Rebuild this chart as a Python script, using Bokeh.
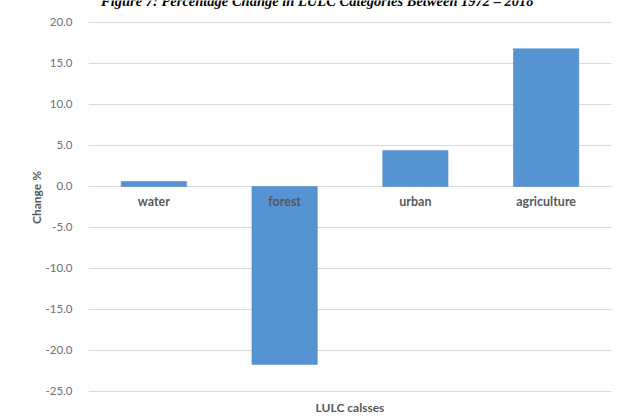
from bokeh.plotting import figure
from bokeh.models import FactorRange, Range1d, SingleIntervalTicker, PrintfTickFormatter, Label, ColumnDataSource, FixedTicker, Span
from bokeh.core.properties import value
from bokeh.embed import file_html
from bokeh.resources import INLINE

categories = ["water", "forest", "urban", "agriculture"]
change_pct = [0.6, -21.7, 4.4, 16.8]
title_text = "Figure 7: Percentage Change in LULC Categories Between 1972 \u2013 2018"
y_label = "Change %"
x_label = "LULC calsses"

src = ColumnDataSource(dict(cat=categories, val=change_pct, zero=[0] * len(categories)))

p = figure(width=617, height=420, x_range=FactorRange(*categories),
           y_range=Range1d(-25.37, 22.68), output_backend="svg", toolbar_location=None,
           min_border_top=0, min_border_right=6, min_border_left=88, min_border_bottom=26)
p.outline_line_color = None
p.background_fill_color = "white"
p.border_fill_color = "white"

p.vbar(x="cat", top="val", bottom=0, width=0.5, source=src,
       fill_color="#5593d3", line_color="#4f8bcb", line_width=0.5)

p.text(x="cat", y="zero", text="cat", source=src, text_align="center", text_baseline="middle",
       y_offset=15, text_font=value("Lato"), text_font_style="bold", text_font_size="12.5px",
       text_color="#595959")

# y axis
p.yaxis.ticker = SingleIntervalTicker(interval=5)
p.yaxis.formatter = PrintfTickFormatter(format="%.1f")
p.yaxis.axis_line_color = None
p.yaxis.major_tick_line_color = None
p.yaxis.minor_tick_line_color = None
p.yaxis.major_label_text_font = "Lato"
p.yaxis.major_label_text_font_size = "11.5px"
p.yaxis.major_label_text_color = "#707070"
p.yaxis.major_label_standoff = 10
p.yaxis.axis_label = y_label
p.yaxis.axis_label_text_font = "Lato"
p.yaxis.axis_label_text_font_style = "bold"
p.yaxis.axis_label_text_font_size = "12px"
p.yaxis.axis_label_text_color = "#595959"
p.yaxis.axis_label_standoff = -1

# x axis: only its title
p.xaxis.ticker = FixedTicker(ticks=[])
p.xaxis.axis_line_color = None
p.xaxis.major_tick_line_color = None
p.xaxis.minor_tick_line_color = None
p.xaxis.axis_label = x_label
p.xaxis.axis_label_text_font = "Lato"
p.xaxis.axis_label_text_font_style = "bold"
p.xaxis.axis_label_text_font_size = "12px"
p.xaxis.axis_label_text_color = "#595959"
p.xaxis.axis_label_standoff = 5

p.xgrid.grid_line_color = None
p.ygrid.grid_line_color = "#d9d9d9"
p.ygrid.grid_line_width = 1

p.add_layout(Span(location=-80, location_units="screen", dimension="height",
                  line_color="#e3e3e3", line_width=1))

p.add_layout(Label(x=1.75, x_units="data", y=22.68, text=title_text, text_align="center",
                   text_baseline="middle", text_font="Liberation Serif", text_font_style="bold italic",
                   text_font_size="14.5px", text_color="#000000"))
p.x_range.range_padding = 0

open("out.html", "w").write(file_html(p, INLINE))
